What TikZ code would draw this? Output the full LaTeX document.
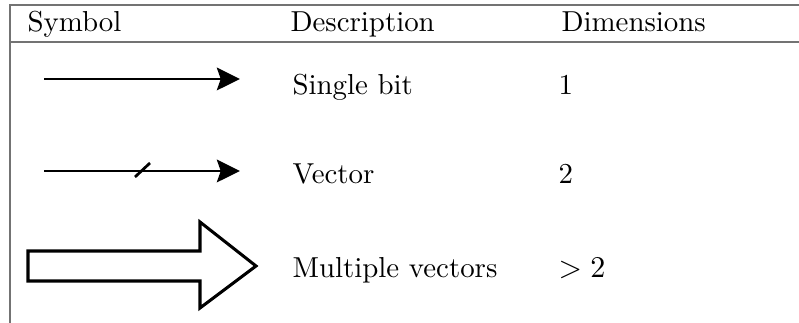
\documentclass[tikz,border=0pt]{standalone}
\usetikzlibrary{arrows.meta}
\begin{document}
\begin{tikzpicture}[x=0.3636pt,y=-0.3636pt,
  rule/.style={draw=black!55,line width=0.5pt},
  celltext/.style={anchor=base west,inner sep=0pt,font=\fontsize{10.5}{12.5}\selectfont},
  wire/.style={line width=1pt,-{Stealth[length=8.4pt,width=8.2pt,inset=1.4pt]}},
  fatarrow/.style={draw=black,line width=1.1pt,fill=white,line join=miter}]
\useasboundingbox (0,0) rectangle (799,323);

% table frame
\coordinate (tl) at (10,5);
\coordinate (tr) at (799,5);
\coordinate (bl) at (10,323);
\coordinate (hl) at (10,42);
\coordinate (hr) at (799,42);
\draw[rule] (tr) -- (tl) -- (bl);
\draw[rule] (hl) -- (hr);

% header
\node[celltext] (hsym)  at (27,32)  {Symbol};
\node[celltext] (hdesc) at (290,32) {Description};
\node[celltext] (hdim)  at (561,32) {Dimensions};

% single bit
\coordinate (a1s) at (44,79);
\coordinate (a1e) at (240,79);
\draw[wire] (a1s) -- (a1e);
\node[celltext] (d1) at (292,95) {Single bit};
\node[celltext] (n1) at (558,95) {1};

% vector
\coordinate (a2s) at (44,171);
\coordinate (a2e) at (240,171);
\coordinate (s2a) at (135,177);
\coordinate (s2b) at (150,163);
\draw[wire] (a2s) -- (a2e);
\draw[line width=1pt] (s2a) -- (s2b);
\node[celltext] (d2) at (292,184) {Vector};
\node[celltext] (n2) at (558,184) {2};

% multiple vectors
\draw[fatarrow] (28,251) -- (200,251) -- (200,222) -- (256,266)
  -- (200,308) -- (200,281) -- (28,281) -- cycle;
\node[celltext] (d3) at (292,278) {Multiple vectors};
\node[celltext] (n3) at (558,278) {$>2$};
\end{tikzpicture}
\end{document}
